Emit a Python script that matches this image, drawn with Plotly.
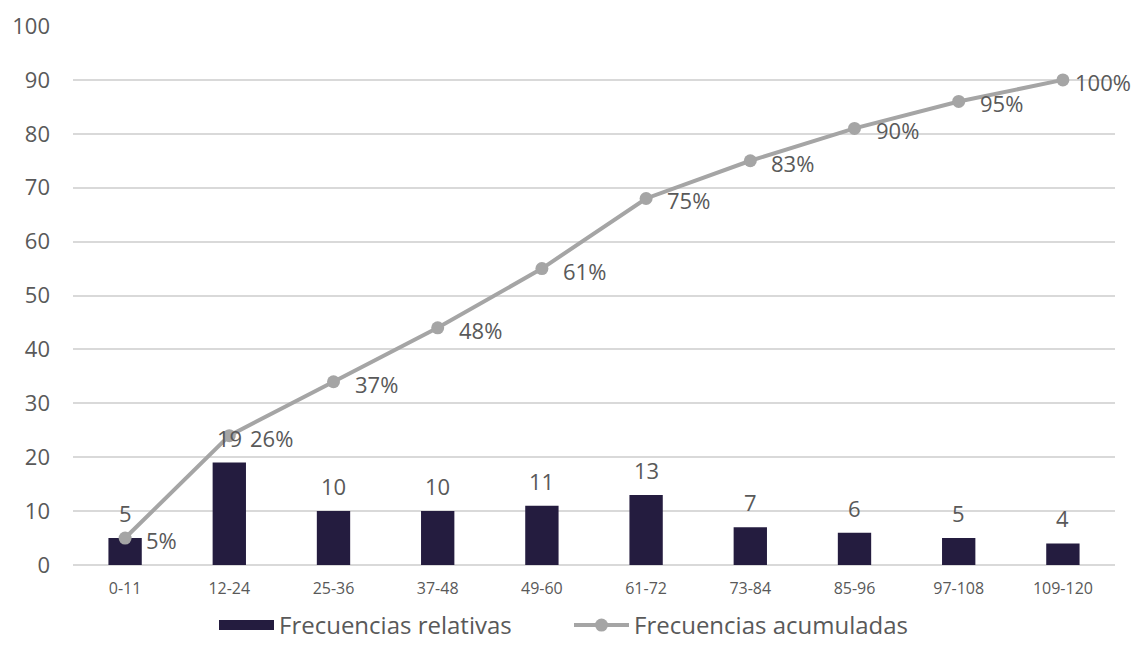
import math
import plotly.graph_objects as go

# Age ranges (months) and counts per range
categories = ["0-11", "12-24", "25-36", "37-48", "49-60", "61-72",
              "73-84", "85-96", "97-108", "109-120"]
relative_freq = [5, 19, 10, 10, 11, 13, 7, 6, 5, 4]
cumulative_freq = [5, 24, 34, 44, 55, 68, 75, 81, 86, 90]

total = cumulative_freq[-1]
cum_pct_labels = [f"{math.floor(100 * c / total)}%" for c in cumulative_freq]

BAR_COLOR = "#241C3F"
LINE_COLOR = "#A5A5A5"
TEXT_COLOR = "#595959"
FONT = "Open Sans"

fig = go.Figure()

fig.add_trace(go.Bar(
    x=categories,
    y=relative_freq,
    name="Frecuencias relativas",
    legendgroup="rel",
    showlegend=False,
    marker=dict(color=BAR_COLOR, line=dict(width=0)),
))

# legend key for the bars drawn as a wide block
fig.add_trace(go.Scatter(
    x=[None], y=[None],
    name="Frecuencias relativas",
    legendgroup="rel",
    mode="lines",
    line=dict(color=BAR_COLOR, width=12),
    hoverinfo="skip",
))

fig.add_trace(go.Scatter(
    x=categories,
    y=cumulative_freq,
    name="Frecuencias acumuladas",
    mode="lines+markers",
    line=dict(color=LINE_COLOR, width=4),
    marker=dict(color=LINE_COLOR, size=13),
))

# value labels above the bars
for cat, val in zip(categories, relative_freq):
    fig.add_annotation(
        x=cat, y=val, text=str(val), showarrow=False,
        yanchor="bottom", yshift=8,
        font=dict(family=FONT, size=22, color=TEXT_COLOR),
    )

# cumulative percentage labels to the right of each point
# (the last one sits a little closer so it stays inside the page)
last = len(categories) - 1
for i, (cat, val, lab) in enumerate(zip(categories, cumulative_freq, cum_pct_labels)):
    fig.add_annotation(
        x=cat, y=val, text=lab, showarrow=False,
        xanchor="left", yanchor="middle",
        xshift=10 if i == last else 19, yshift=-2,
        font=dict(family=FONT, size=22, color=TEXT_COLOR),
    )

fig.update_layout(
    width=1138, height=648,
    margin=dict(l=73, r=23, t=26, b=83, autoexpand=False),
    plot_bgcolor="white", paper_bgcolor="white",
    font=dict(family=FONT, color=TEXT_COLOR),
    bargap=0.68,
    showlegend=True,
    legend=dict(
        orientation="h", xref="container", x=0.5, xanchor="center",
        yref="container", y=-0.02, yanchor="bottom",
        font=dict(family=FONT, size=24, color=TEXT_COLOR),
        itemwidth=55, entrywidth=285,
    ),
    xaxis=dict(
        range=[-0.5, len(categories) - 0.5], autorange=False,
        showgrid=False, showline=False, ticks="", automargin=False,
        ticklabelstandoff=12,
        tickfont=dict(family=FONT, size=16, color=TEXT_COLOR),
    ),
    yaxis=dict(
        range=[0, 100], dtick=10, showgrid=True, gridcolor="#D9D9D9",
        gridwidth=1.5, zeroline=True, zerolinecolor="#D9D9D9", zerolinewidth=1.5,
        ticks="", ticklabelstandoff=22, automargin=False,
        tickfont=dict(family=FONT, size=22, color=TEXT_COLOR),
    ),
)

fig.write_html("out.html")
